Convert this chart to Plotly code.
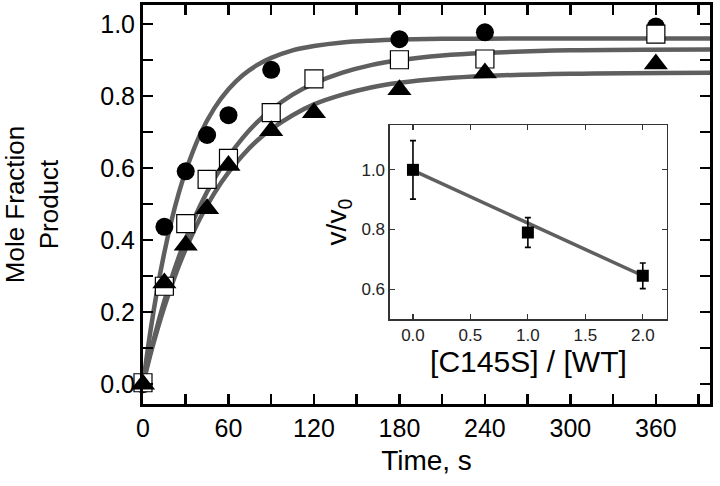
import plotly.graph_objects as go

# ---- main panel data ----
t_circle = [0, 15, 30, 45, 60, 90, 180, 240, 360]
y_circle = [0.0, 0.437, 0.591, 0.692, 0.747, 0.873, 0.958, 0.977, 0.993]

t_square = [0, 15, 30, 45, 60, 90, 120, 180, 240, 360]
y_square = [0.004, 0.272, 0.446, 0.569, 0.627, 0.754, 0.848, 0.901, 0.903, 0.972]

t_tri = [0, 15, 30, 45, 60, 90, 120, 180, 240, 360]
y_tri = [0.0, 0.281, 0.386, 0.487, 0.607, 0.704, 0.754, 0.818, 0.864, 0.889]

# fitted curves
t_fit = [0, 5, 10, 15, 20, 25, 30, 40, 50, 60, 70, 80, 90, 105, 120, 140, 160, 180, 210, 240, 300, 400]
fit_circle = [0.0, 0.142, 0.263, 0.366, 0.454, 0.529, 0.592, 0.693, 0.766, 0.819, 0.858, 0.886, 0.906, 0.927,
              0.939, 0.949, 0.954, 0.957, 0.959, 0.9595, 0.96, 0.96]
fit_square = [0.0, 0.085, 0.161, 0.231, 0.294, 0.352, 0.404, 0.495, 0.570, 0.632, 0.684, 0.727, 0.762, 0.804,
              0.835, 0.865, 0.886, 0.900, 0.913, 0.920, 0.927, 0.9295]
fit_tri = [0.0, 0.079, 0.150, 0.215, 0.273, 0.327, 0.375, 0.460, 0.530, 0.588, 0.636, 0.676, 0.708, 0.747,
           0.777, 0.804, 0.824, 0.837, 0.849, 0.856, 0.862, 0.865]

# ---- inset data ----
ratio = [0.0, 1.0, 2.0]
v_rel = [1.0, 0.79, 0.645]
v_err = [0.098, 0.05, 0.043]
line_x = [0.0, 2.0]
line_y = [0.998, 0.645]

GRAY = "rgb(95,95,95)"
FONT = "Liberation Sans, Arial, Helvetica, sans-serif"

fig = go.Figure()
for fy in (fit_circle, fit_square, fit_tri):
    fig.add_trace(go.Scatter(x=t_fit, y=fy, mode="lines", line=dict(color=GRAY, width=4.5, shape="spline", smoothing=1),
                             showlegend=False, hoverinfo="skip", xaxis="x", yaxis="y"))
fig.add_trace(go.Scatter(x=t_circle, y=y_circle, mode="markers", cliponaxis=False,
                         marker=dict(symbol="circle", size=18, color="black", line=dict(width=0)),
                         showlegend=False, xaxis="x", yaxis="y"))
fig.add_trace(go.Scatter(x=t_square, y=y_square, mode="markers", cliponaxis=False,
                         marker=dict(symbol="square", size=18, color="white", line=dict(width=1.2, color="black")),
                         showlegend=False, xaxis="x", yaxis="y"))
fig.add_trace(go.Scatter(x=t_tri, y=y_tri, mode="markers", cliponaxis=False,
                         marker=dict(symbol="triangle-up", size=21, color="black", line=dict(width=0)),
                         showlegend=False, xaxis="x", yaxis="y"))

# inset
fig.add_trace(go.Scatter(x=line_x, y=line_y, mode="lines", line=dict(color=GRAY, width=3.5),
                         showlegend=False, hoverinfo="skip", xaxis="x2", yaxis="y2"))
fig.add_trace(go.Scatter(x=ratio, y=v_rel, mode="markers", cliponaxis=False,
                         marker=dict(symbol="square", size=12, color="black"),
                         error_y=dict(type="data", array=v_err, color="black", thickness=1.6, width=3),
                         showlegend=False, xaxis="x2", yaxis="y2"))

axis_common = dict(showgrid=False, zeroline=False, ticks="inside", mirror="ticks", showline=True, automargin=False)

fig.update_layout(
    width=720, height=486,
    margin=dict(l=143, r=10, t=5, b=82),
    paper_bgcolor="white", plot_bgcolor="white",
    font=dict(family=FONT, color="black"),
    xaxis=dict(axis_common, domain=[0, 1], range=[0, 398], tick0=0, dtick=60,
               minor=dict(dtick=30, ticks="inside", ticklen=10, tickwidth=2.5, tickcolor="black", showgrid=False),
               linewidth=3, linecolor="black", ticklen=10, tickwidth=2.5, tickcolor="black",
               tickfont=dict(size=25), title=dict(text="Time, s", font=dict(size=28), standoff=10)),
    yaxis=dict(axis_common, domain=[0, 1], range=[-0.055, 1.053], tick0=0, dtick=0.2, tickformat=".1f",
               minor=dict(dtick=0.1, ticks="inside", ticklen=10, tickwidth=2.5, tickcolor="black", showgrid=False),
               linewidth=3, linecolor="black", ticklen=10, tickwidth=2.5, tickcolor="black",
               tickfont=dict(size=25), title=dict(text="Mole Fraction<br>Product", font=dict(size=26), standoff=40)),
    xaxis2=dict(axis_common, domain=[0.4356, 0.924], anchor="y2", range=[-0.2, 2.21], tick0=0, dtick=0.5,
                tickformat=".1f",
                linewidth=1.5, linecolor="#333", ticklen=5, tickwidth=1.2, tickcolor="#333",
                tickfont=dict(size=17, color="#222"), title=dict(text="[C145S] / [WT]", font=dict(size=30), standoff=2)),
    yaxis2=dict(axis_common, domain=[0.213, 0.699], anchor="x2", range=[0.5, 1.15], tick0=0.6, dtick=0.2,
                tickformat=".1f",
                linewidth=1.5, linecolor="#333", ticklen=5, tickwidth=1.2, tickcolor="#333",
                tickfont=dict(size=17, color="#222"), title=dict(text="v/v<sub>0</sub>", font=dict(size=28), standoff=6)),
)

fig.write_html("out.html", config={"displayModeBar": False, "staticPlot": True},
               post_script="document.body.style.margin='0';")
